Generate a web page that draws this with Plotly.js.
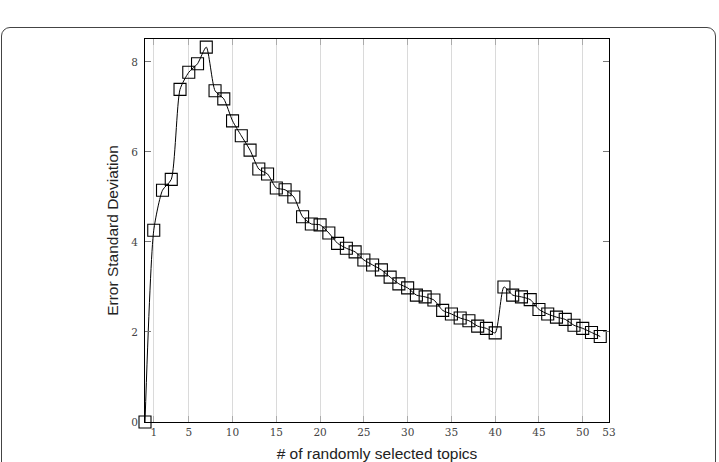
<!DOCTYPE html>
<html>
<head>
<meta charset="utf-8">
<script src="https://cdn.plot.ly/plotly-3.0.1.min.js"></script>
<style>
  html, body { margin: 0; padding: 0; background: #fff; overflow: hidden; }
  #frame { position: absolute; left: 1px; top: 27px; width: 715px; height: 470px;
           border: 1px solid #444; border-radius: 9px; box-sizing: border-box; }
  #chart { position: absolute; left: 0; top: 0; width: 719px; height: 462px; }
</style>
</head>
<body>
<div id="frame"></div>
<div id="chart"></div>
<script>
const topicCounts = [0,1,2,3,4,5,6,7,8,9,10,11,12,13,14,15,16,17,18,19,20,21,22,23,24,25,26,27,28,29,30,31,32,33,34,35,36,37,38,39,40,41,42,43,44,45,46,47,48,49,50,51,52];
const errorStd = [0,4.26,5.15,5.39,7.39,7.77,7.96,8.33,7.36,7.18,6.69,6.36,6.04,5.62,5.51,5.2,5.16,5.0,4.56,4.4,4.38,4.2,3.97,3.86,3.78,3.6,3.49,3.38,3.22,3.07,2.98,2.82,2.78,2.71,2.48,2.4,2.31,2.25,2.13,2.08,1.98,3.0,2.82,2.78,2.72,2.5,2.4,2.33,2.28,2.15,2.08,1.99,1.9];
const xTickVals = [1,5,10,15,20,25,30,35,40,45,50,53];
const xTickText = ['1','5','10','15','20','25','30','35','40','45','50','53'];
const yTickVals = [0,2,4,6,8];

const trace = {
  x: topicCounts,
  y: errorStd,
  type: 'scatter',
  mode: 'lines+markers',
  line: { color: '#000', width: 1, shape: 'spline', smoothing: 0.6 },
  marker: { symbol: 'square-open', size: 12, color: '#000', line: { width: 1.1, color: '#000' } },
  cliponaxis: false,
  showlegend: false
};

const tickFont = { family: 'DejaVu Serif, Liberation Serif, serif', size: 10.5, color: '#444' };
const titleFont = { family: 'Liberation Sans, Arial, sans-serif', size: 15.5, color: '#222' };

const layout = {
  width: 719, height: 462,
  margin: { l: 145, r: 110, t: 39, b: 40 },
  paper_bgcolor: 'rgba(0,0,0,0)',
  plot_bgcolor: '#fff',
  showlegend: false,
  xaxis: {
    range: [0, 53],
    tickmode: 'array', tickvals: xTickVals, ticktext: xTickText,
    showgrid: true, gridcolor: '#dadada', gridwidth: 1,
    zeroline: false,
    showline: true, linecolor: '#000', linewidth: 1, mirror: 'ticks',
    ticks: 'inside', ticklen: 6, tickcolor: '#aaa', tickwidth: 1,
    tickfont: tickFont,
    title: { text: '# of randomly selected topics', font: titleFont, standoff: 12 }
  },
  yaxis: {
    range: [0, 8.51],
    tickmode: 'array', tickvals: yTickVals,
    showgrid: false, zeroline: false,
    showline: true, linecolor: '#000', linewidth: 1, mirror: 'ticks',
    ticks: 'inside', ticklen: 6, tickcolor: '#777', tickwidth: 1,
    ticklabelstandoff: 4,
    tickfont: tickFont,
    title: { text: 'Error Standard Deviation', font: titleFont, standoff: 8 }
  }
};

Plotly.newPlot('chart', [trace], layout, { displayModeBar: false, staticPlot: true });
</script>
</body>
</html>
